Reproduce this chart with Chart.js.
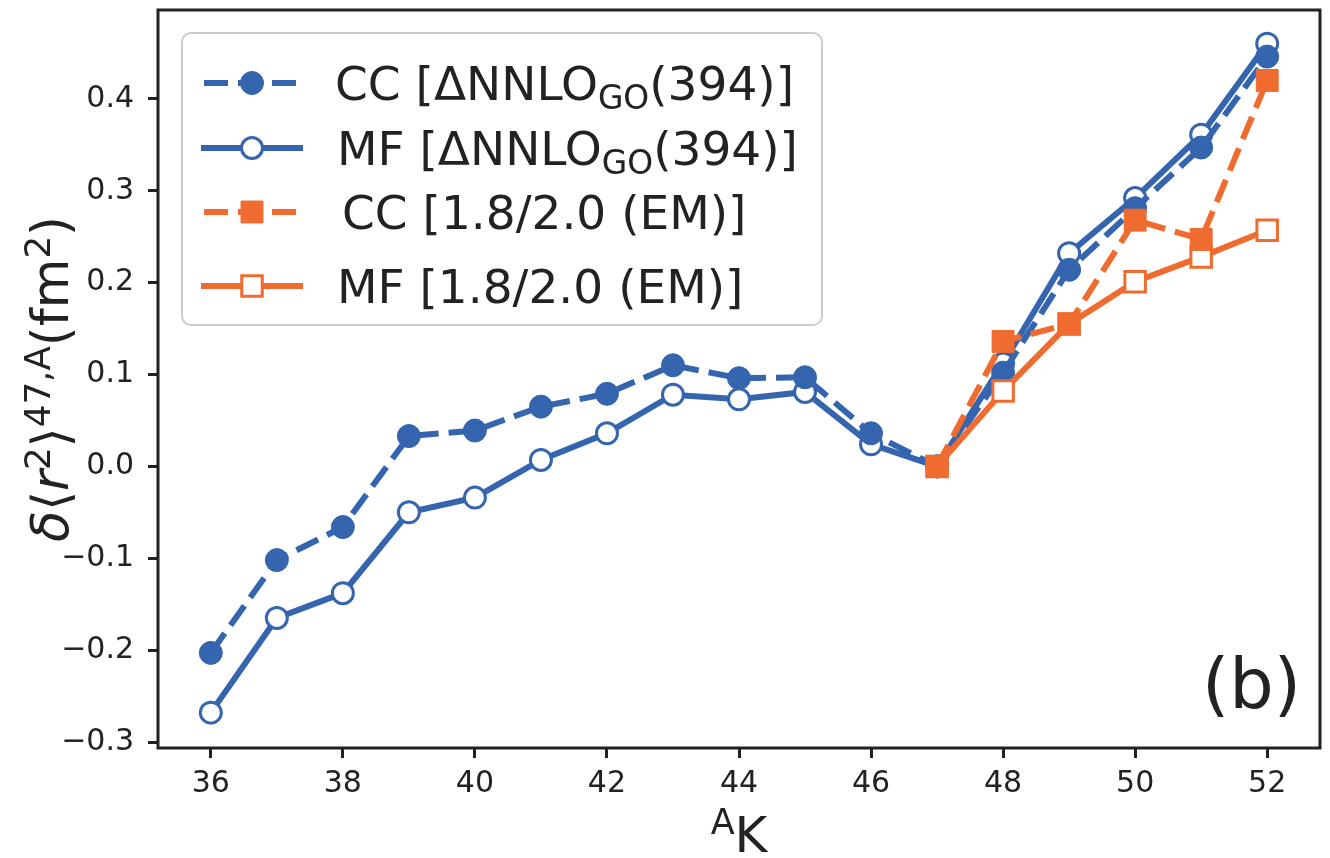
<!DOCTYPE html>
<html>
<head>
<meta charset="utf-8">
<script src="https://cdn.jsdelivr.net/npm/chart.js@4.4.0/dist/chart.umd.min.js"></script>
<style>
  html, body { margin: 0; padding: 0; background: #fff; }
  #wrap { width: 1330px; height: 858px; }
</style>
</head>
<body>
<div id="wrap"><canvas id="grafico" width="1330" height="858"></canvas></div>
<script>
const d = document;

//Datos: isótopos de K (número másico A)
const masas = [36, 37, 38, 39, 40, 41, 42, 43, 44, 45, 46, 47, 48, 49, 50, 51, 52];
const ccNNLO = [-0.203, -0.102, -0.066, 0.033, 0.039, 0.065, 0.079, 0.110, 0.096, 0.097, 0.036, 0.000, 0.102, 0.214, 0.281, 0.347, 0.446];
const mfNNLO = [-0.268, -0.165, -0.138, -0.050, -0.034, 0.007, 0.036, 0.078, 0.073, 0.081, 0.024, 0.000, 0.112, 0.232, 0.292, 0.361, 0.460];
const masasEM = [47, 48, 49, 50, 51, 52];
const ccEM = [0.000, 0.136, 0.155, 0.268, 0.247, 0.420];
const mfEM = [0.000, 0.082, 0.155, 0.201, 0.228, 0.257];

//Ticks
const ticksX = [36, 38, 40, 42, 44, 46, 48, 50, 52];
const ticksY = [-0.3, -0.2, -0.1, 0.0, 0.1, 0.2, 0.3, 0.4];

//Textos
const nombres = ["CC [ΔNNLO_{GO}(394)]", "MF [ΔNNLO_{GO}(394)]", "CC [1.8/2.0 (EM)]", "MF [1.8/2.0 (EM)]"];
const tituloX = "^{A}K";
const tituloY = "$δ$⟨$r$^{2}⟩^{47,A}(fm^{2})";
const panel = "(b)";

const azul = "#3465ae",
  naranja = "#f06b2f",
  negro = "#222222",
  fuente = "DejaVu Sans";

//Texto con sub/superíndices
const textoRico = (ctx, str, x, y, size, align) => {
  const partes = [];
  const re = /\^\{([^}]*)\}|_\{([^}]*)\}|\$([^$]*)\$|([^\^_$]+)/g;
  let m;
  while ((m = re.exec(str)) !== null) {
    if (m[1] !== undefined) partes.push({ t: m[1], s: size * 0.7, dy: -size * 0.36, it: false });
    else if (m[2] !== undefined) partes.push({ t: m[2], s: size * 0.7, dy: size * 0.2, it: false });
    else if (m[3] !== undefined) partes.push({ t: m[3], s: size, dy: 0, it: true });
    else partes.push({ t: m[4], s: size, dy: 0, it: false });
  }
  let total = 0;
  partes.forEach(p => {
    ctx.font = `${p.it ? "italic " : ""}${p.s}px "${fuente}"`;
    p.w = ctx.measureText(p.t).width;
    total += p.w;
  });
  let cx = align === "center" ? x - total / 2 : (align === "right" ? x - total : x);
  ctx.textAlign = "left";
  ctx.textBaseline = "alphabetic";
  partes.forEach(p => {
    ctx.font = `${p.it ? "italic " : ""}${p.s}px "${fuente}"`;
    ctx.fillText(p.t, cx, y + p.dy);
    cx += p.w;
  });
};

const marcador = (ctx, estilo, x, y, r, relleno, borde, bw) => {
  ctx.beginPath();
  if (estilo === "rect") {
    const s = r * Math.SQRT1_2;
    ctx.rect(x - s, y - s, 2 * s, 2 * s);
  } else ctx.arc(x, y, r, 0, 2 * Math.PI);
  ctx.setLineDash([]);
  ctx.fillStyle = relleno;
  ctx.fill();
  ctx.lineWidth = bw;
  ctx.strokeStyle = borde;
  ctx.stroke();
};

const serie = (label, xs, ys, extra) => Object.assign({
  label,
  data: xs.map((x, i) => ({ x, y: ys[i] })),
  fill: false,
  tension: 0,
  borderWidth: 6,
  pointHoverRadius: 0
}, extra);

const datasets = [
  serie(nombres[0], masas, ccNNLO, {
    borderColor: azul, borderDash: [24, 10], pointStyle: "circle", pointRadius: 11.5,
    pointBackgroundColor: azul, pointBorderColor: azul, pointBorderWidth: 1, order: 2
  }),
  serie(nombres[1], masas, mfNNLO, {
    borderColor: azul, pointStyle: "circle", pointRadius: 10.5,
    pointBackgroundColor: "#ffffff", pointBorderColor: azul, pointBorderWidth: 3, order: 3
  }),
  serie(nombres[2], masasEM, ccEM, {
    borderColor: naranja, borderDash: [24, 10], pointStyle: "rect", pointRadius: 15.5,
    pointBackgroundColor: naranja, pointBorderColor: naranja, pointBorderWidth: 1, order: 0
  }),
  serie(nombres[3], masasEM, mfEM, {
    borderColor: naranja, pointStyle: "rect", pointRadius: 14.5,
    pointBackgroundColor: "#ffffff", pointBorderColor: naranja, pointBorderWidth: 3, order: 1
  })
];

//Plugin: marco, leyenda y títulos
const adornos = {
  id: "adornos",
  afterDatasetsDraw(chart) {
    const ctx = chart.ctx,
      a = chart.chartArea;
    ctx.save();

    //Marco
    ctx.setLineDash([]);
    ctx.lineWidth = 3;
    ctx.strokeStyle = negro;
    ctx.strokeRect(a.left, a.top, a.right - a.left, a.bottom - a.top);

    //Leyenda
    const lx = 182, ly = 33, lw = 640, lh = 292;
    ctx.beginPath();
    ctx.roundRect(lx, ly, lw, lh, 9);
    ctx.fillStyle = "rgba(255,255,255,0.8)";
    ctx.fill();
    ctx.lineWidth = 2;
    ctx.strokeStyle = "#cccccc";
    ctx.stroke();

    const filas = [83, 148, 212, 286],
      xTexto = [335, 337, 342, 337];
    nombres.forEach((nom, i) => {
      const ds = chart.data.datasets[i],
        y = filas[i];
      ctx.beginPath();
      ctx.setLineDash(ds.borderDash || []);
      ctx.lineWidth = ds.borderWidth;
      ctx.strokeStyle = ds.borderColor;
      ctx.moveTo(ds.borderDash ? 204 : 201, y);
      ctx.lineTo(ds.borderDash ? 298 : 303, y);
      ctx.stroke();
      marcador(ctx, ds.pointStyle, 252, y, ds.pointRadius, ds.pointBackgroundColor, ds.pointBorderColor, ds.pointBorderWidth);
      ctx.fillStyle = negro;
      textoRico(ctx, nom, xTexto[i], y + 17, 47, "left");
    });

    //Títulos de ejes
    ctx.fillStyle = negro;
    textoRico(ctx, tituloX, (a.left + a.right) / 2, 852, 50, "center");
    ctx.save();
    ctx.translate(68, (a.top + a.bottom) / 2);
    ctx.rotate(-Math.PI / 2);
    textoRico(ctx, tituloY, 0, 0, 51, "center");
    ctx.restore();

    //Panel
    ctx.font = `70px "${fuente}"`;
    ctx.textAlign = "left";
    ctx.textBaseline = "alphabetic";
    ctx.fillText(panel, 1202, 708);

    ctx.restore();
  }
};

const ejeComun = {
  grid: { drawOnChartArea: false, drawTicks: true, tickLength: 10, tickWidth: 3, tickColor: negro },
  border: { display: false }
};

//Sin márgenes extra por las etiquetas de los ticks
const sinPadding = s => {
  s.paddingTop = 0;
  s.paddingBottom = 0;
  s.paddingLeft = 0;
  s.paddingRight = 0;
};

//Área del gráfico como en la figura original
const area = { top: 10, bottom: 748 };

new Chart(d.getElementById("grafico"), {
  type: "line",
  data: { datasets },
  options: {
    responsive: false,
    animation: false,
    devicePixelRatio: 1,
    layout: { autoPadding: false, padding: { top: area.top, right: 10, left: 0, bottom: 0 } },
    plugins: { legend: { display: false }, tooltip: { enabled: false } },
    scales: {
      x: Object.assign({
        type: "linear",
        min: 35.2,
        max: 52.8,
        afterBuildTicks: s => { s.ticks = ticksX.map(v => ({ value: v })); },
        afterFit: s => { s.height = 858 - area.bottom; sinPadding(s); },
        ticks: {
          font: { family: fuente, size: 30 }, color: negro, padding: 8,
          maxRotation: 0, autoSkip: false, callback: v => String(v)
        }
      }, ejeComun),
      y: Object.assign({
        type: "linear",
        min: -0.3065,
        max: 0.4967,
        afterBuildTicks: s => { s.ticks = ticksY.map(v => ({ value: v })); },
        afterFit: s => { s.width = 158; sinPadding(s); },
        ticks: {
          font: { family: fuente, size: 30 }, color: negro, padding: 14,
          autoSkip: false, callback: v => v.toFixed(1).replace("-", "\u2212")
        }
      }, ejeComun)
    }
  },
  plugins: [adornos]
});
</script>
</body>
</html>
